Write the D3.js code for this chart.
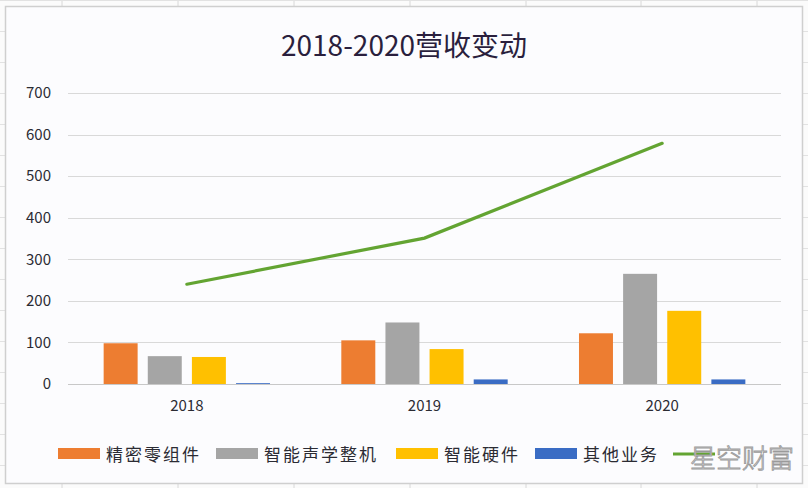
<!DOCTYPE html>
<html>
<head>
<meta charset="utf-8">
<script src="https://cdn.jsdelivr.net/npm/d3@7/dist/d3.min.js"></script>
<style>
  html, body { margin: 0; padding: 0; background: #fafafa; }
  svg { display: block; }
  text { font-family: "Noto Sans CJK SC", "Noto Sans", sans-serif; }
</style>
</head>
<body>
<svg id="chart" width="808" height="488"></svg>
<script>
// ---- data ----
const years = ["2018", "2019", "2020"];
const seriesNames = ["精密零组件", "智能声学整机", "智能硬件", "其他业务"];
const precisionParts = [98, 105, 122];
const smartAcoustic = [67, 148, 265];
const smartHardware = [65, 84, 176];
const otherBusiness = [2, 11, 11];
const totalRevenue = [240, 351, 579];
const lineName = "营收";
const yTicks = [0, 100, 200, 300, 400, 500, 600, 700];
const title = "2018-2020营收变动";
const watermark = "星空财富";

const barSeries = [precisionParts, smartAcoustic, smartHardware, otherBusiness];
const colors = ["#ED7D31", "#A5A5A5", "#FFC000", "#3A6CC4"];
const lineColor = "#63A432";

const svg = d3.select("#chart");
const W = 808, H = 488;

// spreadsheet background grid
const bg = svg.append("g");
bg.append("rect").attr("width", W).attr("height", H).attr("fill", "#fbfbfb");
[62, 178, 294, 410, 526, 641, 757].forEach(x => {
  bg.append("line").attr("x1", x).attr("x2", x).attr("y1", 0).attr("y2", H)
    .attr("stroke", "#d8d8d8").attr("stroke-width", 1);
});
d3.range(0, 16).forEach(i => {
  const y = 0.5 + 31 * i;
  bg.append("line").attr("x1", 0).attr("x2", W).attr("y1", y).attr("y2", y)
    .attr("stroke", "#e2e2e2").attr("stroke-width", 1);
});

// chart box
svg.append("rect").attr("x", 5.5).attr("y", 6.5).attr("width", 797).attr("height", 477)
  .attr("fill", "#fcfcfe").attr("stroke", "#cfcfcf").attr("stroke-width", 1.5);

// scales
const y = d3.scaleLinear().domain([0, 700]).range([384, 93]);
const x0 = d3.scaleBand().domain(years).range([68, 781]).padding(0);
const x1 = d3.scaleBand().domain(d3.range(seriesNames.length))
  .range([x0.bandwidth() * 0.15, x0.bandwidth() * 0.85]).paddingInner(0.23);

// gridlines
const grid = svg.append("g");
yTicks.forEach(t => {
  grid.append("line").attr("x1", 68).attr("x2", 781)
    .attr("y1", Math.round(y(t)) + 0.5).attr("y2", Math.round(y(t)) + 0.5)
    .attr("stroke", t === 0 ? "#c8c8c8" : "#d9d9d9").attr("stroke-width", 1.2);
});

// y axis labels
const yAxis = d3.axisLeft(y).tickValues(yTicks).tickSize(0).tickPadding(0);
const yg = svg.append("g").attr("transform", "translate(51,0)").call(yAxis);
yg.select(".domain").remove();
yg.selectAll("text").attr("font-size", 15).attr("fill", "#2b2b33")
  .attr("font-family", "'Open Sans', 'Noto Sans', sans-serif");

// x axis labels
const xAxis = d3.axisBottom(x0).tickSize(0).tickPadding(0);
const xg = svg.append("g").attr("transform", "translate(0,400)").call(xAxis);
xg.select(".domain").remove();
xg.selectAll("text").attr("font-size", 15).attr("fill", "#2b2b33")
  .attr("font-family", "'Open Sans', 'Noto Sans', sans-serif");

// bars
const bars = svg.append("g");
barSeries.forEach((vals, si) => {
  bars.selectAll(null).data(years).enter().append("rect")
    .attr("x", d => x0(d) + x1(si))
    .attr("width", x1.bandwidth())
    .attr("y", (d, i) => y(vals[i]))
    .attr("height", (d, i) => y(0) - y(vals[i]))
    .attr("fill", colors[si]);
});

// line
const line = d3.line()
  .x((d, i) => x0(years[i]) + x0.bandwidth() / 2)
  .y(d => y(d));
svg.append("path").datum(totalRevenue)
  .attr("d", line).attr("fill", "none")
  .attr("stroke", lineColor).attr("stroke-width", 3.2)
  .attr("stroke-linecap", "round");

// title
svg.append("text").attr("x", 404).attr("y", 56).attr("text-anchor", "middle")
  .attr("font-size", 28).attr("fill", "#2a1f3d").text(title);

// legend
const legendX = [58, 216, 396, 535];
const lg = svg.append("g");
seriesNames.forEach((name, i) => {
  lg.append("rect").attr("x", legendX[i]).attr("y", 448).attr("width", 42).attr("height", 11)
    .attr("fill", colors[i]);
  lg.append("text").attr("x", legendX[i] + 48).attr("y", 461)
    .attr("font-size", 17).attr("letter-spacing", 2).attr("fill", "#2b2b33").text(name);
});
lg.append("line").attr("x1", 673).attr("x2", 715).attr("y1", 454).attr("y2", 454)
  .attr("stroke", lineColor).attr("stroke-width", 3);

// watermark
svg.append("text").attr("x", 690).attr("y", 468)
  .attr("font-size", 26).attr("font-weight", 300).attr("letter-spacing", 0)
  .attr("fill", "#ffffff").attr("stroke", "#9a9a9a").attr("stroke-width", 0.9)
  .text(watermark);
</script>
</body>
</html>
